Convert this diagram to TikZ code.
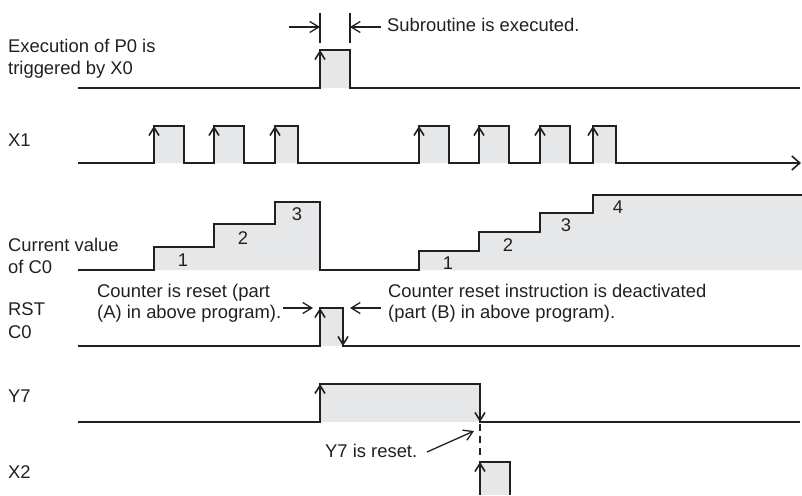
\documentclass[tikz,border=0pt]{standalone}
\usepackage{fontspec}
\setmainfont{Liberation Sans}
\usetikzlibrary{arrows.meta}
\definecolor{ink}{HTML}{231F20}
\definecolor{pale}{HTML}{E6E7E8}
\begin{document}
\begin{tikzpicture}[x=1pt,y=-1pt,
  sig/.style={draw=ink,line width=2pt,line join=miter},
  edgeup/.style={draw=ink,line width=2pt,-{Straight Barb[length=8pt,width=10pt,line width=1.6pt]}},
  dimarrow/.style={draw=ink,line width=1.3pt,-{Straight Barb[length=9pt,width=11pt]}},
  tick/.style={draw=ink,line width=1.6pt},
  lbl/.style={font=\fontsize{18.4}{22}\selectfont,text=ink,inner sep=0pt,anchor=west,text height=13.5pt,text depth=4pt},
  num/.style={font=\fontsize{18.4}{22}\selectfont,text=ink,inner sep=0pt,text height=13.5pt,text depth=4pt}]
\useasboundingbox (0,0) rectangle (802,495);

% ---------- labels on the left
\node[lbl] (lp0a) at (8,48) {Execution of P0 is};
\node[lbl] (lp0b) at (8,70) {triggered by X0};
\node[lbl] (lx1) at (8,142) {X1};
\node[lbl] (lc0a) at (8,247) {Current value};
\node[lbl] (lc0b) at (8,269) {of C0};
\node[lbl] (lrsta) at (8,311) {RST};
\node[lbl] (lrstb) at (8,334) {C0};
\node[lbl] (ly7) at (8,398) {Y7};
\node[lbl] (lx2) at (8,474) {X2};

% ---------- row P0
\fill[pale] (320,50) rectangle (350,88);
\draw[sig] (78,88) -- (320,88) -- (320,50) -- (350,50) -- (350,88) -- (800,88);
\draw[edgeup] (320,88) -- (320,50);
\draw[tick] (320,13) -- (320,43);
\draw[tick] (350,13) -- (350,43);
\coordinate (da) at (289,27);
\coordinate (db) at (320,27);
\coordinate (dc) at (381,27);
\coordinate (dd) at (350,27);
\draw[dimarrow] (da) -- (db);
\draw[dimarrow] (dc) -- (dd);
\node[lbl] (tsub) at (387,27) {Subroutine is executed.};

% ---------- row X1
\foreach \a/\b in {154/184,214/244,275/298,419/449,479/509,540/570,593/616}
  \fill[pale] (\a,126) rectangle (\b,163);
\draw[sig,-{Straight Barb[length=8pt,width=14pt,line width=1.6pt]}]
  (78,163) -- (154,163) -- (154,126) -- (184,126) -- (184,163)
  -- (214,163) -- (214,126) -- (244,126) -- (244,163)
  -- (275,163) -- (275,126) -- (298,126) -- (298,163)
  -- (419,163) -- (419,126) -- (449,126) -- (449,163)
  -- (479,163) -- (479,126) -- (509,126) -- (509,163)
  -- (540,163) -- (540,126) -- (570,126) -- (570,163)
  -- (593,163) -- (593,126) -- (616,126) -- (616,163)
  -- (801,163);
\foreach \a in {154,214,275,419,479,540,593}
  \draw[edgeup] (\a,163) -- (\a,126);

% ---------- row C0 (current value)
\fill[pale] (154,270) -- (154,247) -- (214,247) -- (214,224) -- (275,224) -- (275,202)
  -- (320,202) -- (320,270) -- cycle;
\fill[pale] (419,270) -- (419,251) -- (479,251) -- (479,232) -- (540,232) -- (540,213)
  -- (593,213) -- (593,195) -- (802,195) -- (802,270) -- cycle;
\draw[sig] (78,270) -- (154,270) -- (154,247) -- (214,247) -- (214,224) -- (275,224)
  -- (275,202) -- (320,202) -- (320,270) -- (419,270) -- (419,251) -- (479,251)
  -- (479,232) -- (540,232) -- (540,213) -- (593,213) -- (593,195) -- (802,195);
\node[num] (n1) at (183,262) {1};
\node[num] (n2) at (243,240) {2};
\node[num] (n3) at (297,216) {3};
\node[num] (m1) at (448,265) {1};
\node[num] (m2) at (508,247) {2};
\node[num] (m3) at (566,227) {3};
\node[num] (m4) at (618,209) {4};

% ---------- row RST C0
\fill[pale] (320,308) rectangle (343,346);
\draw[sig] (78,346) -- (320,346) -- (320,308) -- (343,308) -- (343,346) -- (800,346);
\draw[edgeup] (320,346) -- (320,308);
\draw[edgeup] (343,308) -- (343,346);
\node[lbl] (tra) at (97,293) {Counter is reset (part};
\node[lbl] (trb) at (97,314) {(A) in above program).};
\node[lbl] (tda) at (388,293) {Counter reset instruction is deactivated};
\node[lbl] (tdb) at (388,314) {(part (B) in above program).};
\coordinate (ra) at (283,308);
\coordinate (rb) at (313,308);
\coordinate (rc) at (381,308);
\coordinate (rd) at (350,308);
\draw[dimarrow] (ra) -- (rb);
\draw[dimarrow] (rc) -- (rd);

% ---------- row Y7
\fill[pale] (320,384) rectangle (480,422);
\draw[sig] (78,422) -- (320,422) -- (320,384) -- (480,384) -- (480,422) -- (800,422);
\draw[edgeup] (320,422) -- (320,384);
\draw[edgeup] (480,384) -- (480,422);
\draw[ink,line width=1.6pt,dash pattern=on 7pt off 5pt] (480,424) -- (480,460);
\node[lbl] (ty7) at (325,453) {Y7 is reset.};
\coordinate (ya) at (427,452);
\coordinate (yb) at (474,431);
\draw[dimarrow] (ya) -- (yb);

% ---------- row X2
\fill[pale] (480,462) rectangle (510,495);
\draw[sig] (480,495) -- (480,462) -- (510,462) -- (510,495);
\draw[edgeup] (480,495) -- (480,462);
\end{tikzpicture}
\end{document}
